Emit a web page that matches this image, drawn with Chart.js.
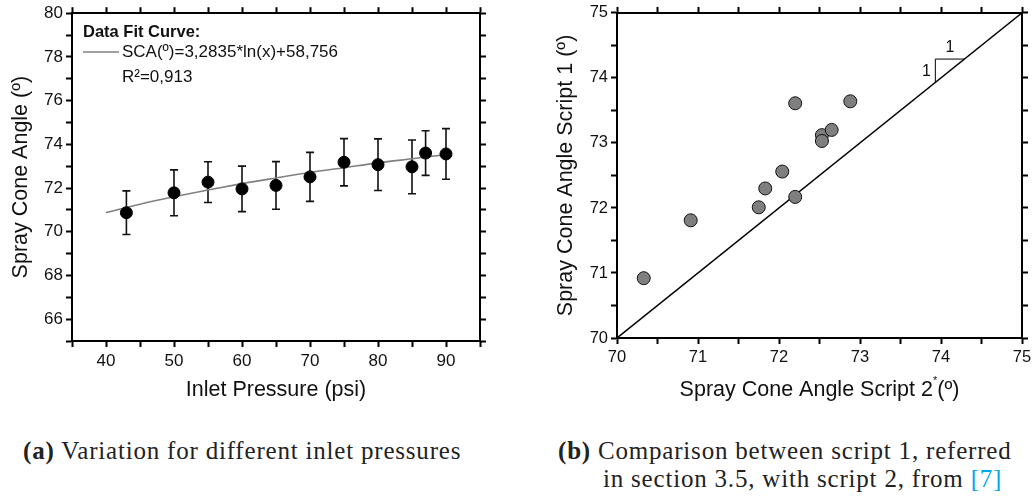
<!DOCTYPE html>
<html>
<head>
<meta charset="utf-8">
<script src="https://cdn.jsdelivr.net/npm/chart.js@4/dist/chart.umd.min.js"></script>
<style>
  body { margin: 0; background: #fff; width: 1036px; height: 498px; overflow: hidden; position: relative; }
  #boxA { position: absolute; left: 0; top: 0; width: 518px; height: 420px; }
  #boxB { position: absolute; left: 518px; top: 0; width: 518px; height: 420px; }
  .cap { position: absolute; font-family: "Liberation Serif", "Times New Roman", serif; font-size: 25px; letter-spacing: 0.8px; color: #222; white-space: nowrap; line-height: 28px; }
  .cap b { font-weight: bold; }
  .ref { color: #00a8e8; }
</style>
</head>
<body>
<div id="boxA"><canvas id="chartA" width="518" height="420"></canvas></div>
<div id="boxB"><canvas id="chartB" width="518" height="420"></canvas></div>
<div class="cap" id="capA" style="left:23px; top:437px;"><b>(a)</b> Variation for different inlet pressures</div>
<div class="cap" id="capB" style="left:558px; top:437px;"><b>(b)</b> Comparison between script 1, referred<br><span style="padding-left:45px">in section 3.5, with script 2, from <span class="ref">[7]</span></span></div>

<script>
// data
const pressures = [43, 50, 55, 60, 65, 70, 75, 80, 85, 87, 90];
const coneAngles = [70.87, 71.78, 72.27, 71.96, 72.12, 72.51, 73.18, 73.07, 72.97, 73.60, 73.56];
const angleErrors = [1.0, 1.05, 0.93, 1.04, 1.09, 1.12, 1.08, 1.18, 1.23, 1.02, 1.16];

// fitted curve, as drawn (grey line)
const fitPressures = [40, 45, 50, 55, 60, 65, 70, 75, 80, 85, 90];
const fitAngles = [70.87, 71.26, 71.60, 71.91, 72.20, 72.46, 72.71, 72.93, 73.15, 73.34, 73.53];

// script comparison (panel b)
const script2Angles = [70.33, 70.91, 71.75, 71.83, 72.04, 72.20, 72.20, 72.53, 72.53, 72.65, 72.88];
const script1Angles = [70.92, 71.81, 72.01, 72.30, 72.56, 73.61, 72.17, 73.12, 73.03, 73.20, 73.64];
const identityLine = [70, 75];
const slopeMarker = [[73.93, 73.93], [73.93, 74.29], [74.29, 74.29]];

const SANS = '"Liberation Sans", Arial, sans-serif';
Chart.defaults.font.family = SANS;
Chart.defaults.color = '#111';

// shared frame / tick styling
function frameAxis(extra) {
  return Object.assign({
    type: 'linear',
    grid: { drawOnChartArea: false, drawTicks: true, tickLength: 6, tickWidth: 2, color: '#000' },
    border: { display: true, color: '#000', width: 2 },
  }, extra);
}

// error bars for panel a
const errorBars = {
  id: 'errorBars',
  beforeDatasetsDraw(chart) {
    const ctx = chart.ctx;
    const xs = chart.scales.x, ys = chart.scales.y;
    ctx.save();
    ctx.strokeStyle = '#111';
    ctx.lineWidth = 1.6;
    pressures.forEach((p, i) => {
      const x = xs.getPixelForValue(p);
      const top = ys.getPixelForValue(coneAngles[i] + angleErrors[i]);
      const bot = ys.getPixelForValue(coneAngles[i] - angleErrors[i]);
      ctx.beginPath();
      ctx.moveTo(x, top); ctx.lineTo(x, bot);
      ctx.moveTo(x - 4, top); ctx.lineTo(x + 4, top);
      ctx.moveTo(x - 4, bot); ctx.lineTo(x + 4, bot);
      ctx.stroke();
    });
    ctx.restore();
  }
};

// legend box in the top left corner of panel a
const fitLegend = {
  id: 'fitLegend',
  afterDraw(chart) {
    const ctx = chart.ctx;
    ctx.save();
    ctx.textBaseline = 'middle';
    ctx.fillStyle = '#111';
    ctx.font = 'bold 16.5px ' + SANS;
    ctx.fillText('Data Fit Curve:', 83, 32);
    ctx.strokeStyle = '#808080';
    ctx.lineWidth = 1.5;
    ctx.beginPath();
    ctx.moveTo(83, 52); ctx.lineTo(119, 52);
    ctx.stroke();
    ctx.font = '17px ' + SANS;
    ctx.fillText('SCA(\u00BA)=3,2835*ln(x)+58,756', 122, 52);
    ctx.fillText('R\u00B2=0,913', 122, 77);
    ctx.restore();
  }
};

new Chart(document.getElementById('chartA'), {
  type: 'scatter',
  data: {
    datasets: [
      {
        label: 'Measured',
        data: pressures.map((p, i) => ({ x: p, y: coneAngles[i] })),
        backgroundColor: '#000',
        borderColor: '#000',
        pointRadius: 6,
        order: 0
      },
      {
        label: 'Fit',
        data: fitPressures.map((p, i) => ({ x: p, y: fitAngles[i] })),
        showLine: true,
        borderColor: '#808080',
        borderWidth: 1.6,
        pointRadius: 0,
        cubicInterpolationMode: 'monotone',
        order: 1
      }
    ]
  },
  options: {
    responsive: false,
    animation: false,
    devicePixelRatio: 1,
    layout: { padding: 0 },
    plugins: { legend: { display: false }, tooltip: { enabled: false } },
    scales: {
      x: frameAxis({
        position: 'bottom', min: 35, max: 95,
        ticks: { stepSize: 5, autoSkip: false, maxRotation: 0, padding: 4, font: { size: 17 },
          callback: v => (v % 10 === 0 ? v : '') },
        title: { display: true, text: 'Inlet Pressure (psi)', font: { size: 21.5 }, padding: { bottom: 17 } },
        afterFit: s => { s.height = 79; }
      }),
      xTop: frameAxis({
        position: 'top', min: 35, max: 95,
        ticks: { display: false, stepSize: 5 },
        afterFit: s => { s.height = 12; }
      }),
      y: frameAxis({
        position: 'left', min: 65, max: 80,
        ticks: { stepSize: 1, autoSkip: false, padding: 3, font: { size: 17 },
          callback: v => (v % 2 === 0 ? v : '') },
        title: { display: true, text: 'Spray Cone Angle (\u00BA)', font: { size: 21.5 }, padding: { top: 8 } },
        afterFit: s => { s.width = 72; }
      }),
      yRight: frameAxis({
        position: 'right', min: 65, max: 80,
        ticks: { display: false, stepSize: 1 },
        afterFit: s => { s.width = 38; }
      })
    }
  },
  plugins: [errorBars, fitLegend]
});

// slope labels and x title with superscript for panel b
const panelBText = {
  id: 'panelBText',
  afterDraw(chart) {
    const ctx = chart.ctx;
    const xs = chart.scales.x, ys = chart.scales.y;
    ctx.save();
    ctx.fillStyle = '#111';
    ctx.textBaseline = 'middle';
    ctx.textAlign = 'center';
    ctx.font = '16px ' + SANS;
    ctx.fillText('1', xs.getPixelForValue(74.11), ys.getPixelForValue(74.46));
    ctx.fillText('1', xs.getPixelForValue(73.82), ys.getPixelForValue(74.09));

    // x axis title: "Spray Cone Angle Script 2*(º)"
    const main = 'Spray Cone Angle Script 2';
    const tail = '(\u00BA)';
    ctx.textAlign = 'left';
    ctx.font = '21.5px ' + SANS;
    const wMain = ctx.measureText(main).width;
    const wTail = ctx.measureText(tail).width;
    ctx.font = '11px ' + SANS;
    const wStar = ctx.measureText('*').width;
    const cx = (chart.chartArea.left + chart.chartArea.right) / 2;
    let x = cx - (wMain + wStar + wTail) / 2;
    const y = 390;
    ctx.font = '21.5px ' + SANS;
    ctx.fillText(main, x, y);
    x += wMain;
    ctx.font = '11px ' + SANS;
    ctx.fillText('*', x, y - 9);
    x += wStar;
    ctx.font = '21.5px ' + SANS;
    ctx.fillText(tail, x, y);
    ctx.restore();
  }
};

new Chart(document.getElementById('chartB'), {
  type: 'scatter',
  data: {
    datasets: [
      {
        label: 'Scripts',
        data: script2Angles.map((v, i) => ({ x: v, y: script1Angles[i] })),
        backgroundColor: '#7f7f7f',
        borderColor: '#111',
        borderWidth: 1,
        pointRadius: 6.5,
        order: 0
      },
      {
        label: '1:1',
        data: identityLine.map(v => ({ x: v, y: v })),
        showLine: true,
        borderColor: '#000',
        borderWidth: 1.5,
        pointRadius: 0,
        order: 1
      },
      {
        label: 'slope',
        data: slopeMarker.map(p => ({ x: p[0], y: p[1] })),
        showLine: true,
        borderColor: '#000',
        borderWidth: 1,
        pointRadius: 0,
        order: 2
      }
    ]
  },
  options: {
    responsive: false,
    animation: false,
    devicePixelRatio: 1,
    layout: { padding: 0 },
    plugins: { legend: { display: false }, tooltip: { enabled: false } },
    scales: {
      x: frameAxis({
        position: 'bottom', min: 70, max: 75,
        ticks: { stepSize: 0.5, autoSkip: false, maxRotation: 0, padding: 4, font: { size: 16.5 },
          callback: v => (Number.isInteger(v) ? v : '') },
        afterFit: s => { s.height = 82; }
      }),
      xTop: frameAxis({
        position: 'top', min: 70, max: 75,
        ticks: { display: false, stepSize: 0.5 },
        afterFit: s => { s.height = 12; }
      }),
      y: frameAxis({
        position: 'left', min: 70, max: 75,
        ticks: { stepSize: 0.5, autoSkip: false, padding: 3, font: { size: 16.5 },
          callback: v => (Number.isInteger(v) ? v : '') },
        title: { display: true, text: 'Spray Cone Angle Script 1 (\u00BA)', font: { size: 21.5 }, padding: { top: 35 } },
        afterFit: s => { s.width = 99; }
      }),
      yRight: frameAxis({
        position: 'right', min: 70, max: 75,
        ticks: { display: false, stepSize: 0.5 },
        afterFit: s => { s.width = 14; }
      })
    }
  },
  plugins: [panelBText]
});
</script>
</body>
</html>
